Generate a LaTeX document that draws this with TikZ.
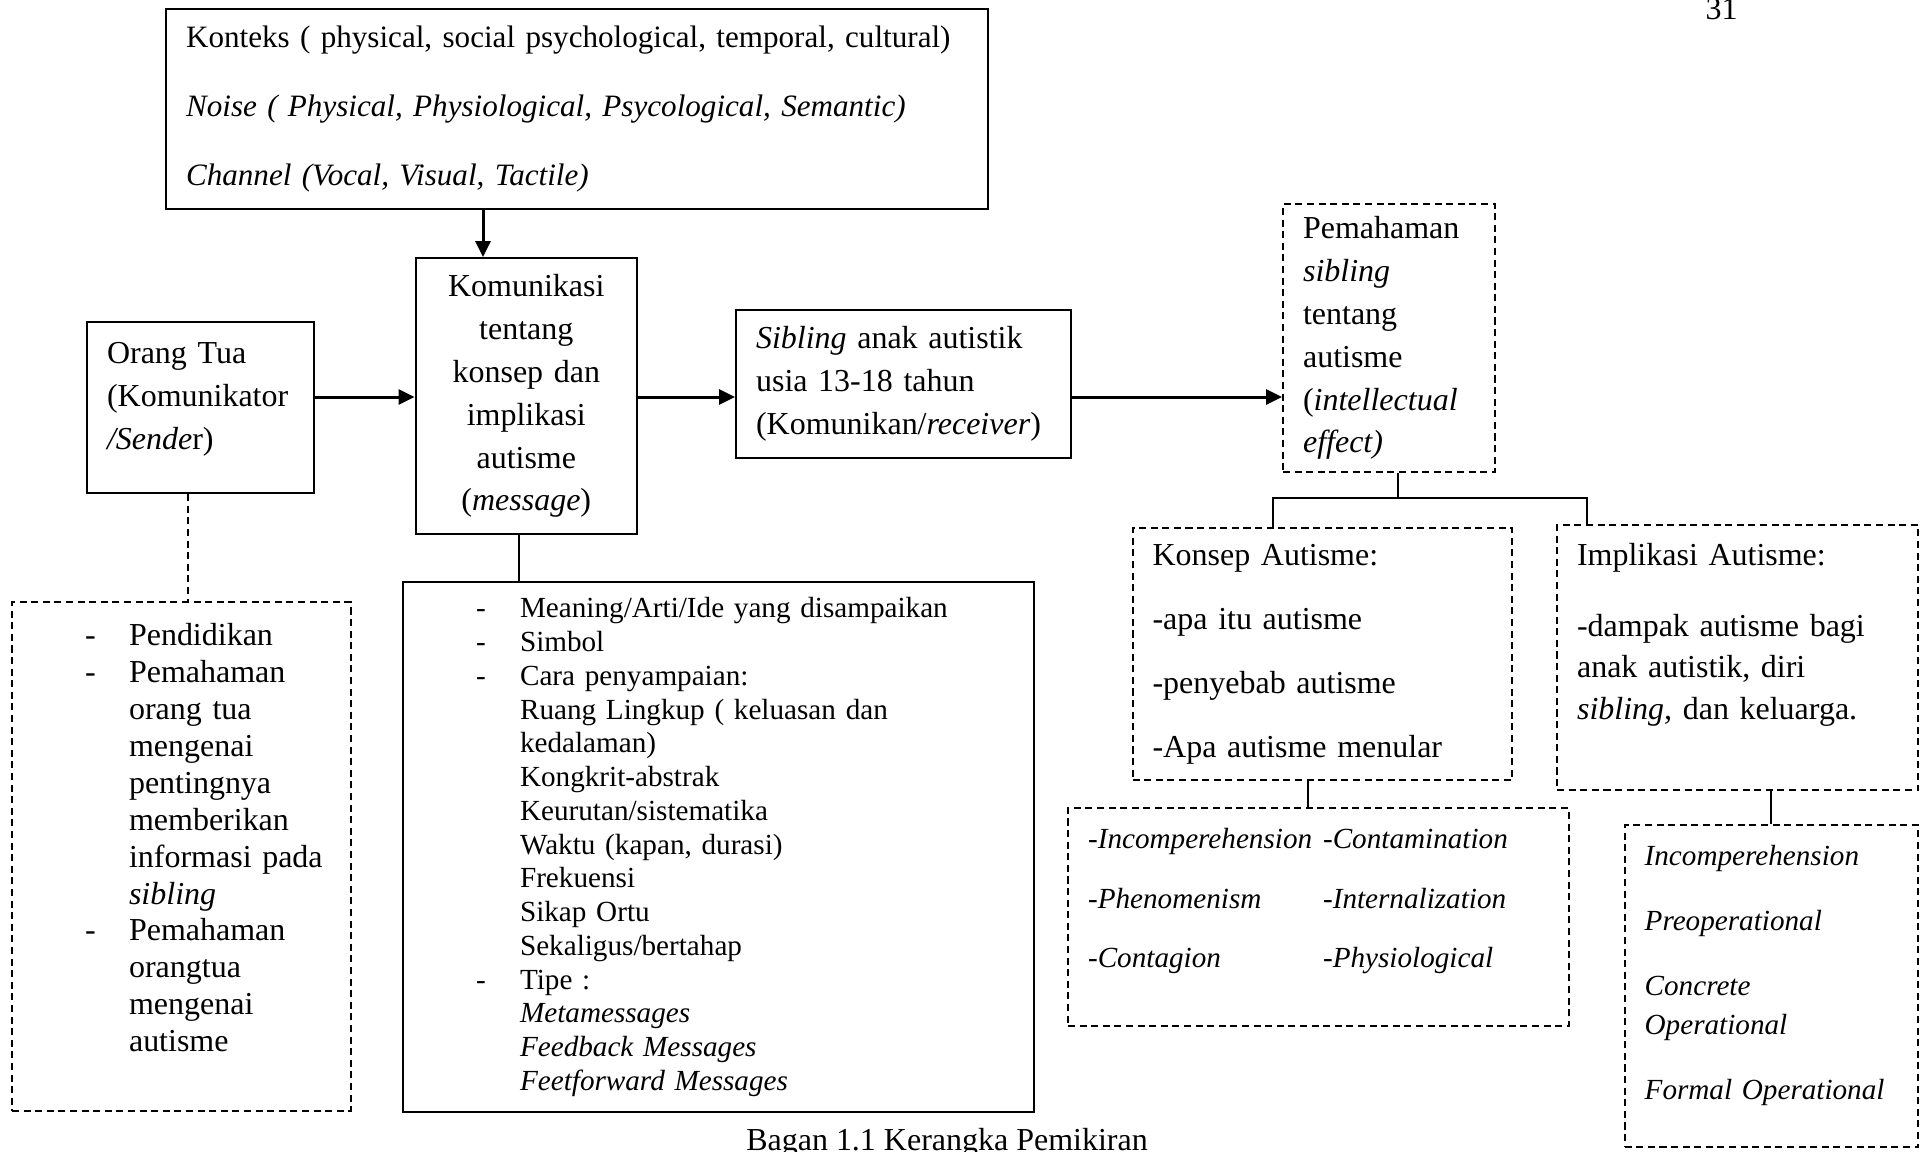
\documentclass[tikz,border=0pt]{standalone}
\usepackage{fontspec}
\setmainfont{Liberation Serif}
\usetikzlibrary{arrows.meta}
\newcommand{\sisa}[1]{\rule[-#1]{0pt}{#1}}
\newcommand{\butir}{\hspace*{0.53cm}\makebox[0.44cm][l]{-}}
\newcommand{\lanjut}{\hspace*{0.97cm}}
\newcommand{\kolom}[1]{\makebox[2.35cm][l]{#1}}

\begin{document}
\begin{tikzpicture}[
    kotak/.style={draw, line width=0.6pt, anchor=north west, align=left,
      inner xsep=0.2cm, inner ysep=0pt, font={\fontsize{9.1}{12.2}\selectfont}},
    putus/.style={kotak, dash pattern=on 2pt off 1.3pt},
    garis/.style={line width=0.6pt},
    panah/.style={line width=0.85pt, -{Triangle[length=0.16cm,width=0.15cm]}}]
    \fill[white] (0,0) rectangle (19.2,-11.51);
    \useasboundingbox (0,0) rectangle (19.2,-11.51);

    \node[kotak, minimum width=8.22cm, minimum height=2cm, text width=7.82cm,
      font={\fontsize{8.85}{19.6}\selectfont}] (konteks) at (1.65,-0.08)
      {Konteks ( physical, social psychological, temporal, cultural)\\
       \textit{Noise ( Physical, Physiological, Psycological, Semantic)}\\
       \textit{Channel (Vocal, Visual, Tactile)}};
    \node[kotak, minimum width=2.265cm, minimum height=1.71cm, text width=1.865cm] (orang) at (0.86,-3.21)
      {Orang Tua\\ (Komunikator\\ \textit{/Sende}r)\sisa{0.23cm}};
    \node[kotak, align=center, minimum width=2.215cm, minimum height=2.76cm, text width=1.815cm] (komunikasi) at (4.145,-2.57)
      {Komunikasi\\ tentang\\ konsep dan\\ implikasi\\ autisme\\ (\textit{message})};
    \node[kotak, minimum width=3.35cm, minimum height=1.48cm, text width=2.95cm] (sibling) at (7.35,-3.09)
      {\textit{Sibling} anak autistik\\ usia 13-18 tahun\\ (Komunikan/\textit{receiver})};
    \node[putus, minimum width=2.12cm, minimum height=2.68cm, text width=1.72cm,
      font={\fontsize{9.1}{12.2}\selectfont}] (pemahaman) at (12.82,-2.03)
      {Pemahaman\\ \textit{sibling}\\ tentang\\ autisme\\ (\textit{intellectual}\\ \textit{effect)}};

    \node[putus, minimum width=3.385cm, minimum height=5.09cm, text width=2.985cm,
      font={\fontsize{9.1}{10.5}\selectfont}] (latar) at (0.11,-6.01)
      {\butir Pendidikan\\ \butir Pemahaman\\ \lanjut orang tua\\ \lanjut mengenai\\
       \lanjut pentingnya\\ \lanjut memberikan\\ \lanjut informasi pada\\ \lanjut \textit{sibling}\\
       \butir Pemahaman\\ \lanjut orangtua\\ \lanjut mengenai\\ \lanjut autisme\sisa{0.38cm}};
    \node[kotak, minimum width=6.305cm, minimum height=5.30cm, text width=5.905cm,
      font={\fontsize{8.3}{9.6}\selectfont}] (pesan) at (4.02,-5.81)
      {\butir Meaning/Arti/Ide yang disampaikan\\ \butir Simbol\\ \butir Cara penyampaian:\\
       \lanjut Ruang Lingkup ( keluasan dan\\ \lanjut kedalaman)\\ \lanjut Kongkrit-abstrak\\
       \lanjut Keurutan/sistematika\\ \lanjut Waktu (kapan, durasi)\\ \lanjut Frekuensi\\
       \lanjut Sikap Ortu\\ \lanjut Sekaligus/bertahap\\ \butir Tipe :\\
       \lanjut \textit{Metamessages}\\ \lanjut \textit{Feedback Messages}\\ \lanjut \textit{Feetforward Messages}};

    \node[putus, minimum width=3.795cm, minimum height=2.52cm, text width=3.395cm,
      font={\fontsize{9.1}{18.2}\selectfont}] (konsep) at (11.315,-5.27)
      {Konsep Autisme:\\ -apa itu autisme\\ -penyebab autisme\\ -Apa autisme menular};
    \node[putus, minimum width=3.61cm, minimum height=2.65cm, text width=3.21cm,
      font={\fontsize{9.1}{11.8}\selectfont}] (implikasi) at (15.56,-5.24)
      {Implikasi Autisme:\\[0.29cm] -dampak autisme bagi\\ anak autistik, diri\\ \textit{sibling,} dan keluarga.\sisa{0.52cm}};
    \node[putus, minimum width=5.005cm, minimum height=2.18cm, text width=4.605cm,
      font={\itshape\fontsize{8.3}{17}\selectfont}] (tahap) at (10.67,-8.07)
      {\kolom{-Incomperehension}-Contamination\\ \kolom{-Phenomenism}-Internalization\\
       \kolom{-Contagion}-Physiological\sisa{0.38cm}};
    \node[putus, minimum width=2.934cm, minimum height=3.22cm, text width=2.534cm,
      font={\itshape\fontsize{8.3}{10.9}\selectfont}] (piaget) at (16.236,-8.24)
      {Incomperehension\\[0.27cm] Preoperational\\[0.27cm] Concrete\\ Operational\\[0.27cm] Formal Operational\sisa{0.28cm}};

    \node[anchor=base, font={\fontsize{9.1}{11}\selectfont}] (judul) at (9.47,-11.50) {Bagan 1.1 Kerangka Pemikiran};
    \node[anchor=base, font={\fontsize{9.1}{11}\selectfont}] (halaman) at (17.215,-0.19) {31};

    % titik bantu untuk garis
    \coordinate (sumbu) at (0,-3.97);
    \coordinate (turun) at (4.83,0);
    \coordinate (cabang) at (13.98,-4.98);
    \coordinate (kiri) at (12.73,0);
    \coordinate (kanan) at (15.87,0);

    \draw[panah] (konteks.south -| turun) -- (komunikasi.north -| turun);
    \draw[panah] (orang.east |- sumbu) -- (komunikasi.west |- sumbu);
    \draw[panah] (komunikasi.east |- sumbu) -- (sibling.west |- sumbu);
    \draw[panah] (sibling.east |- sumbu) -- (pemahaman.west |- sumbu);
    \draw[garis, dash pattern=on 2pt off 1.3pt] ([xshift=-0.12cm]orang.south) -- ([xshift=-0.12cm]orang.south |- latar.north);
    \draw[garis] ([xshift=-0.07cm]komunikasi.south) -- ([xshift=-0.07cm]komunikasi.south |- pesan.north);
    \draw[garis] (pemahaman.south -| cabang) -- (cabang);
    \draw[garis] (konsep.north -| kiri) |- (cabang) -| (implikasi.north -| kanan);
    \draw[garis] ([xshift=-0.1cm]tahap.north) -- ([xshift=-0.1cm]tahap.north |- konsep.south);
    \draw[garis] (piaget.north) -- (piaget.north |- implikasi.south);
\end{tikzpicture}
\end{document}
